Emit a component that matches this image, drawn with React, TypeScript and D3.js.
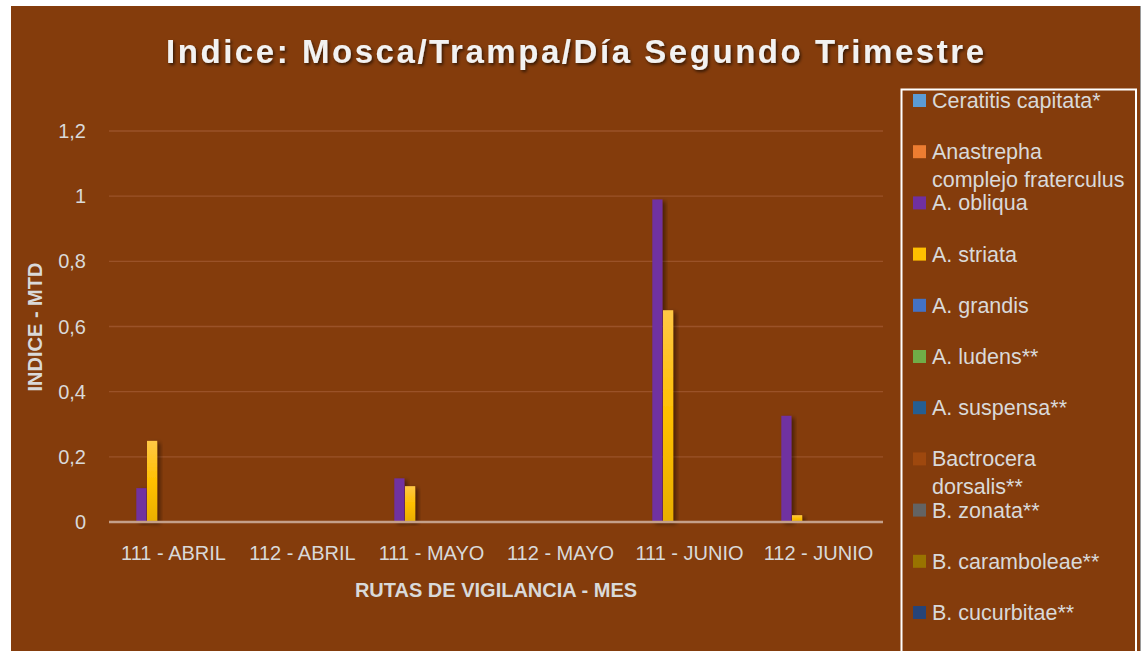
import React from 'react';
import * as d3 from 'd3';

const categories = ['111 - ABRIL', '112 - ABRIL', '111 - MAYO', '112 - MAYO', '111 - JUNIO', '112 - JUNIO'];

const seriesNames = [
  'Ceratitis capitata*',
  'Anastrepha complejo fraterculus',
  'A. obliqua',
  'A. striata',
  'A. grandis',
  'A. ludens**',
  'A. suspensa**',
  'Bactrocera dorsalis**',
  'B. zonata**',
  'B. caramboleae**',
  'B. cucurbitae**',
];

// legend text as it wraps in the original
const legendLines = [
  ['Ceratitis capitata*'],
  ['Anastrepha', 'complejo fraterculus'],
  ['A. obliqua'],
  ['A. striata'],
  ['A. grandis'],
  ['A. ludens**'],
  ['A. suspensa**'],
  ['Bactrocera', 'dorsalis**'],
  ['B. zonata**'],
  ['B. caramboleae**'],
  ['B. cucurbitae**'],
];

const seriesColors = [
  '#5B9BD5', '#ED7D31', '#7030A0', '#FFC000', '#4472C4', '#70AD47',
  '#255E91', '#9E480E', '#636363', '#997300', '#264478',
];

const ceratitis = [0, 0, 0, 0, 0, 0];
const fraterculus = [0, 0, 0, 0, 0, 0];
const obliqua = [0.104, 0, 0.134, 0, 0.99, 0.326];
const striata = [0.249, 0, 0.11, 0, 0.65, 0.021];
const grandis = [0, 0, 0, 0, 0, 0];
const ludens = [0, 0, 0, 0, 0, 0];
const suspensa = [0, 0, 0, 0, 0, 0];
const dorsalis = [0, 0, 0, 0, 0, 0];
const zonata = [0, 0, 0, 0, 0, 0];
const caramboleae = [0, 0, 0, 0, 0, 0];
const cucurbitae = [0, 0, 0, 0, 0, 0];

const seriesValues = [
  ceratitis, fraterculus, obliqua, striata, grandis, ludens,
  suspensa, dorsalis, zonata, caramboleae, cucurbitae,
];

const yTicks = [0, 0.2, 0.4, 0.6, 0.8, 1, 1.2];

const W = 1147;
const H = 651;
const BG = '#843C0C';
const TEXT = '#D9D9D9';
const FONT = '"Liberation Sans", Arial, sans-serif';

const App = () => {
  const plot = { left: 109, right: 883, top: 131, bottom: 522 };

  const x0 = d3.scaleBand<string>()
    .domain(categories)
    .range([plot.left, plot.right])
    .padding(0);

  const x1 = d3.scaleBand<string>()
    .domain(seriesNames)
    .range([0, x0.bandwidth()])
    .paddingInner(0.05)
    .paddingOuter(0.55);

  const y = d3.scaleLinear()
    .domain([0, 1.2])
    .range([plot.bottom, plot.top]);

  const fmt = (d: number) => String(d).replace('.', ',');

  const legendX = 913;
  const legendTop = 108;
  const legendStep = 51.2;

  return (
    <svg
      width={W}
      height={H}
      style={{ position: 'absolute', left: 0, top: 0, display: 'block', background: '#fff' }}
    >
      <defs>
        <linearGradient id="gold" x1="0" y1="0" x2="0" y2="1">
          <stop offset="0%" stopColor="#FFC846" />
          <stop offset="50%" stopColor="#FFC000" />
          <stop offset="100%" stopColor="#E8AE00" />
        </linearGradient>
        <filter id="barShadow" x="-50%" y="-10%" width="200%" height="120%">
          <feDropShadow dx="3" dy="2" stdDeviation="2" floodColor="#000" floodOpacity="0.45" />
        </filter>
        <filter id="titleShadow" x="-5%" y="-30%" width="110%" height="160%">
          <feDropShadow dx="1.5" dy="2" stdDeviation="1.5" floodColor="#000" floodOpacity="0.6" />
        </filter>
      </defs>

      <rect x={11} y={6} width={1130} height={H} fill={BG} />
      <line x1={1140.5} y1={6} x2={1140.5} y2={H} stroke="#9a9a9a" strokeWidth={1} />

      {/* title */}
      <text
        x={575}
        y={63}
        textAnchor="middle"
        fontFamily={FONT}
        fontWeight="bold"
        fontSize={33}
        fill="#F2F2F2"
        textLength={818}
        lengthAdjust="spacing"
        filter="url(#titleShadow)"
      >
        Indice: Mosca/Trampa/Día Segundo Trimestre
      </text>

      {/* gridlines */}
      {yTicks.filter(t => t > 0).map(t => (
        <line
          key={t}
          x1={plot.left}
          x2={plot.right}
          y1={y(t)}
          y2={y(t)}
          stroke="#9A5228"
          strokeWidth={1.3}
        />
      ))}

      {/* y tick labels */}
      {yTicks.map(t => (
        <text
          key={'yl' + t}
          x={86}
          y={y(t) + 7}
          textAnchor="end"
          fontFamily={FONT}
          fontSize={20}
          fill={TEXT}
        >
          {fmt(t)}
        </text>
      ))}

      {/* bars */}
      {seriesNames.map((name, si) =>
        categories.map((cat, ci) => {
          const v = seriesValues[si][ci];
          if (!v) return null;
          const bx = (x0(cat) ?? 0) + (x1(name) ?? 0);
          return (
            <rect
              key={name + cat}
              x={bx}
              y={y(v)}
              width={x1.bandwidth()}
              height={y(0) - y(v)}
              fill={name === 'A. striata' ? 'url(#gold)' : seriesColors[si]}
              filter="url(#barShadow)"
            />
          );
        })
      )}

      {/* zero line */}
      <line
        x1={plot.left}
        x2={plot.right}
        y1={y(0)}
        y2={y(0)}
        stroke="#C4A08A"
        strokeWidth={2.6}
      />

      {/* x labels */}
      {categories.map(cat => (
        <text
          key={'xl' + cat}
          x={(x0(cat) ?? 0) + x0.bandwidth() / 2}
          y={560}
          textAnchor="middle"
          fontFamily={FONT}
          fontSize={20}
          fill={TEXT}
        >
          {cat}
        </text>
      ))}

      {/* axis titles */}
      <text
        x={496}
        y={597}
        textAnchor="middle"
        fontFamily={FONT}
        fontWeight="bold"
        fontSize={20}
        fill={TEXT}
      >
        RUTAS DE VIGILANCIA - MES
      </text>
      <text
        transform="translate(42, 327) rotate(-90)"
        textAnchor="middle"
        fontFamily={FONT}
        fontWeight="bold"
        fontSize={20}
        fill={TEXT}
      >
        INDICE - MTD
      </text>

      {/* legend */}
      <rect x={901.5} y={89.5} width={234.5} height={580} fill="none" stroke="#FFFFFF" strokeWidth={2} />
      {legendLines.map((lines, i) => {
        const base = legendTop + i * legendStep;
        return (
          <g key={'lg' + i}>
            <rect x={legendX} y={base - 14} width={13} height={13} fill={seriesColors[i]} />
            {lines.map((ln, li) => (
              <text
                key={ln}
                x={932}
                y={base + li * 28}
                fontFamily={FONT}
                fontSize={21.5}
                fill={TEXT}
              >
                {ln}
              </text>
            ))}
          </g>
        );
      })}
    </svg>
  );
};

export default App;
